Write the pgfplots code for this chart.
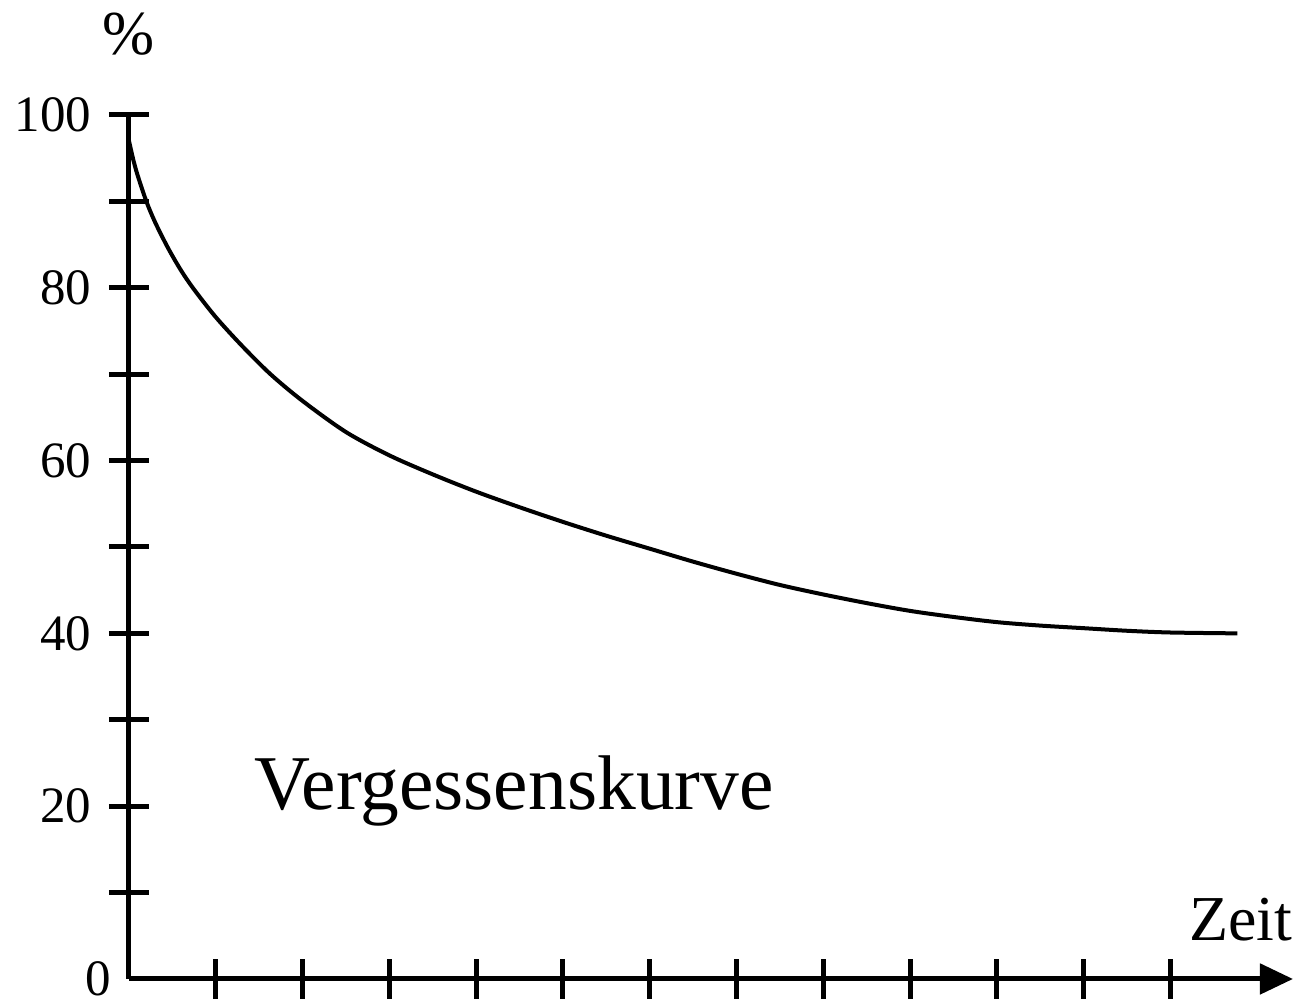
\documentclass[border=0pt]{standalone}
\usepackage{fontspec}
\setmainfont{Liberation Serif}
\usepackage{pgfplots}
\pgfplotsset{compat=1.18}
\usetikzlibrary{arrows.meta}
\begin{document}
\begin{tikzpicture}
\begin{axis}[
  anchor=origin,
  x=17.36pt, y=1.728pt,
  xmin=0, xmax=13.41, ymin=0, ymax=100,
  axis x line=bottom, axis y line=left,
  x axis line style={-{Triangle[length=6.6pt,width=6pt]}},
  y axis line style={-},
  axis line style={line width=1pt, black},
  tick style={line width=1pt, black},
  major tick length=8pt,
  tick align=center,
  xtick={1,2,...,12}, xticklabels={},
  ytick={10,20,...,100},
  yticklabels={,20,,40,,60,,80,,100},
  extra y ticks={0}, extra y tick labels={0},
  extra y tick style={major tick length=0pt},
  /pgf/number format/assume math mode=true,
  yticklabel style={font=\fontsize{10.2}{12}\selectfont},
  clip=false,
]
\addplot[black, line width=0.8pt, smooth, tension=0.5] coordinates {
(0,97) (0.05,94.8) (0.1,93.0) (0.2,90.0) (0.3,87.6) (0.45,84.6) (0.6,82.0)
(0.75,79.8) (1.0,76.6) (1.3,73.3) (1.63,70.0) (2.0,66.9) (2.5,63.3)
(3.0,60.6) (3.5,58.4) (4.0,56.4) (4.5,54.6) (5.0,52.9) (5.5,51.3)
(6.0,49.8) (6.5,48.3) (7.0,46.9) (7.5,45.6) (8.0,44.5) (8.5,43.5)
(9.0,42.6) (9.5,41.9) (10.0,41.3) (10.5,40.9) (11.0,40.6) (11.5,40.3)
(12.0,40.1) (12.77,40.0)
};
\node[font=\fontsize{12.5}{14}\selectfont] at (axis cs:0,109.4) {\%};
\node[anchor=base, font=\fontsize{12.8}{14}\selectfont] at (axis cs:12.81,4.5) {Zeit};
\node[anchor=base, font=\fontsize{15.5}{18}\selectfont] at (axis cs:4.435,19.56) {Vergessenskurve};
\end{axis}
\pgfresetboundingbox
\path[use as bounding box] (-25.8pt,-4.2pt) rectangle (234.4pt,195.8pt);
\end{tikzpicture}
\end{document}
